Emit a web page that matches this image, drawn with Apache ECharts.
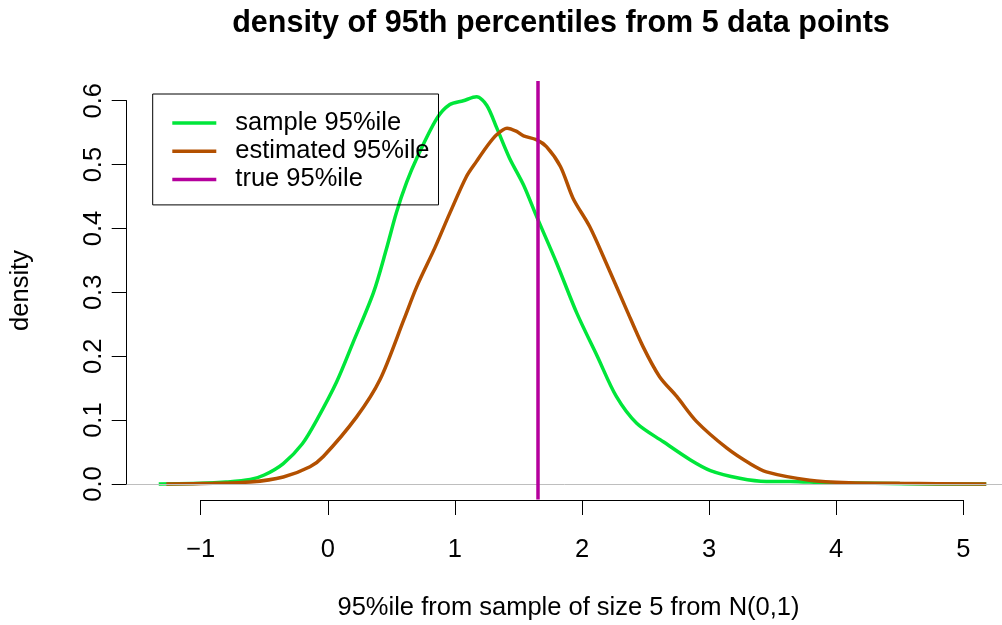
<!DOCTYPE html>
<html>
<head>
<meta charset="utf-8">
<script src="https://cdn.jsdelivr.net/npm/echarts@6/dist/echarts.min.js"></script>
<style>
    html, body {margin: 0; padding: 0; background: #fff;}
    #chart {width: 1002px; height: 625px;}
</style>
</head>
<body>
<div id="chart"></div>
<script>
// density of the sample 95th percentile
const sampleDensity = [
    [-1.33, 0], [-1.0, 0.001], [-0.8, 0.003], [-0.61, 0.007], [-0.5, 0.014], [-0.35, 0.032],
    [-0.2, 0.063], [-0.087, 0.1], [0.07, 0.16], [0.2, 0.222], [0.36, 0.3], [0.46, 0.367],
    [0.54, 0.425], [0.62, 0.472], [0.7, 0.51], [0.857, 0.572], [0.96, 0.594], [1.066, 0.6],
    [1.17, 0.606], [1.25, 0.593], [1.33, 0.557], [1.43, 0.51], [1.54, 0.468], [1.64, 0.42],
    [1.8, 0.346], [1.96, 0.267], [2.12, 0.2], [2.27, 0.137], [2.43, 0.095], [2.64, 0.066],
    [2.85, 0.038], [3.01, 0.021], [3.24, 0.009], [3.45, 0.004], [3.64, 0.004], [3.9, 0.002],
    [4.3, 0.001], [4.8, 0], [5.18, 0],
];

// density of the estimated 95th percentile
const estimatedDensity = [
    [-1.27, 0], [-0.9, 0.001], [-0.61, 0.003], [-0.35, 0.011], [-0.14, 0.027], [-0.035, 0.043],
    [0.227, 0.105], [0.41, 0.163], [0.6, 0.258], [0.7, 0.309], [0.843, 0.37], [0.96, 0.424],
    [1.09, 0.481], [1.17, 0.505], [1.25, 0.528], [1.33, 0.547], [1.41, 0.557], [1.486, 0.552],
    [1.54, 0.545], [1.64, 0.539], [1.72, 0.528], [1.83, 0.497], [1.93, 0.447], [2.06, 0.403],
    [2.19, 0.346], [2.35, 0.273], [2.48, 0.215], [2.61, 0.168], [2.745, 0.137], [2.9, 0.098],
    [3.14, 0.056], [3.32, 0.032], [3.45, 0.019], [3.79, 0.006], [4.1, 0.002], [4.5, 0.001],
    [5.18, 0],
];

const trueQuantile = 1.645;
const xTicks = [-1, 0, 1, 2, 3, 4, 5];
const yTicks = [0, 0.1, 0.2, 0.3, 0.4, 0.5, 0.6];

const font = 'Liberation Sans';
const green = '#00e63a';
const brown = '#b35000';
const purple = '#b5009d';

const hidden = (gridIndex, min, max) => ({type: 'value', gridIndex, min, max, show: false});

const chart = echarts.init(document.getElementById('chart'));
chart.setOption({
    animation: false,
    backgroundColor: '#fff',
    grid: [
        {left: 126.7, right: 0, top: 80.9, bottom: 125.5},
        {left: 200.7, right: 38.7, top: 80.9, bottom: 125},
        {left: 126.7, right: 0, top: 100.7, bottom: 141},
    ],
    xAxis: [
        hidden(0, -1.582, 5.304),
        {
            type: 'value',
            gridIndex: 1,
            min: xTicks[0],
            max: xTicks[xTicks.length - 1],
            interval: 1,
            splitLine: {show: false},
            axisLine: {show: true, onZero: false, lineStyle: {color: '#000', width: 1}},
            axisTick: {show: true, length: 15, lineStyle: {color: '#000', width: 1}},
            axisLabel: {
                margin: 37,
                fontFamily: font,
                fontSize: 25.5,
                color: '#000',
                formatter: v => String(v).replace('-', '\u2212'),
            },
        },
        hidden(2, 0, 1),
    ],
    yAxis: [
        hidden(0, -0.0243, 0.631),
        hidden(1, 0, 1),
        {
            type: 'value',
            gridIndex: 2,
            min: yTicks[0],
            max: yTicks[yTicks.length - 1],
            interval: 0.1,
            splitLine: {show: false},
            axisLine: {show: true, onZero: false, lineStyle: {color: '#000', width: 1}},
            axisTick: {show: true, length: 15, lineStyle: {color: '#000', width: 1}},
            axisLabel: {
                margin: 20,
                rotate: 90,
                fontFamily: font,
                fontSize: 25.5,
                color: '#000',
                formatter: v => v.toFixed(1),
            },
        },
    ],
    legend: {
        orient: 'vertical',
        left: 152.7,
        top: 94,
        padding: [16, 9, 12.5, 19.6],
        itemGap: 2.2,
        icon: 'rect',
        itemWidth: 44,
        itemHeight: 3.5,
        borderColor: '#000',
        borderWidth: 1,
        textStyle: {fontFamily: font, fontSize: 25.5, color: '#000', lineHeight: 25, padding: [0, 0, 0, 14]},
        data: ['sample 95%ile', 'estimated 95%ile', 'true 95%ile'],
    },
    graphic: [
        {
            type: 'text',
            x: 561,
            y: 24,
            style: {
                text: 'density of 95th percentiles from 5 data points',
                font: `bold 30.5px "${font}"`,
                fill: '#000',
                align: 'center',
                verticalAlign: 'middle',
            },
        },
        {
            type: 'text',
            x: 568.5,
            y: 608,
            style: {
                text: '95%ile from sample of size 5 from N(0,1)',
                font: `25.5px "${font}"`,
                fill: '#000',
                align: 'center',
                verticalAlign: 'middle',
            },
        },
        {
            type: 'text',
            x: 21,
            y: 290.5,
            rotation: Math.PI / 2,
            style: {
                text: 'density',
                font: `25.5px "${font}"`,
                fill: '#000',
                align: 'center',
                verticalAlign: 'middle',
            },
        },
    ],
    series: [
        {
            name: 'sample 95%ile',
            type: 'line',
            z: 2,
            data: sampleDensity,
            smooth: 0.3,
            symbol: 'none',
            lineStyle: {color: green, width: 3.5},
            itemStyle: {color: green},
        },
        {
            // zero line drawn by plot.density
            type: 'line',
            z: 3,
            data: [],
            markLine: {
                silent: true,
                symbol: 'none',
                label: {show: false},
                lineStyle: {color: '#bebebe', width: 1, type: 'solid'},
                data: [{yAxis: 0}],
            },
        },
        {
            name: 'estimated 95%ile',
            type: 'line',
            z: 4,
            data: estimatedDensity,
            smooth: 0.3,
            symbol: 'none',
            lineStyle: {color: brown, width: 3.5},
            itemStyle: {color: brown},
        },
        {
            name: 'true 95%ile',
            type: 'line',
            z: 5,
            data: [],
            symbol: 'none',
            lineStyle: {color: purple, width: 3.5},
            itemStyle: {color: purple},
            markLine: {
                silent: true,
                symbol: 'none',
                label: {show: false},
                lineStyle: {color: purple, width: 3.5, type: 'solid'},
                data: [{xAxis: trueQuantile}],
            },
        },
    ],
});
</script>
</body>
</html>
